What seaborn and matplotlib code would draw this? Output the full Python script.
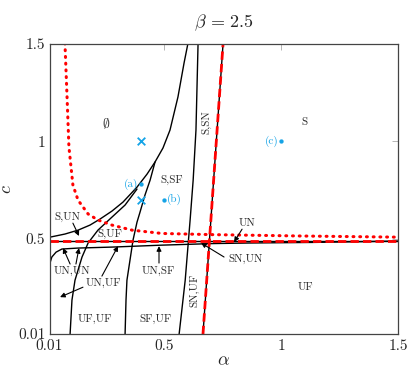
import numpy as np
import pandas as pd
import matplotlib
matplotlib.use("Agg")
import matplotlib.pyplot as plt
import seaborn as sns

# curves of the bifurcation diagram (alpha, c)
a_sun = [0.012, 0.076, 0.132, 0.183, 0.226, 0.277, 0.324, 0.384, 0.427, 0.461,
         0.495, 0.525, 0.559, 0.585, 0.602]
c_sun = [0.508, 0.524, 0.544, 0.570, 0.601, 0.642, 0.688, 0.765, 0.832, 0.894,
         0.966, 1.058, 1.228, 1.402, 1.505]

a_ufl = [0.098, 0.106, 0.119, 0.149, 0.175, 0.217, 0.277, 0.333, 0.384]
c_ufl = [0.010, 0.185, 0.287, 0.406, 0.478, 0.544, 0.611, 0.673, 0.755]

a_sfl = [0.333, 0.337, 0.341, 0.354, 0.367, 0.384, 0.397, 0.418, 0.440, 0.461]
c_sfl = [0.010, 0.185, 0.287, 0.390, 0.493, 0.585, 0.637, 0.724, 0.801, 0.894]

a_snl = [0.564, 0.590, 0.611, 0.624, 0.636, 0.645]
c_snl = [0.010, 0.287, 0.596, 0.801, 1.058, 1.505]

a_vert = [0.666, 0.752]
c_vert = [0.010, 1.505]

a_unsf = [0.012, 0.020, 0.038, 0.063, 0.132, 0.277, 0.491, 0.705, 0.867, 1.137, 1.500]
c_unsf = [0.375, 0.406, 0.431, 0.447, 0.452, 0.457, 0.467, 0.475, 0.478, 0.481, 0.488]

a_horiz = [0.01, 1.5]
c_horiz = [0.49, 0.49]

a_dot = [0.076, 0.085, 0.093, 0.110, 0.132, 0.175, 0.217, 0.277, 0.363, 0.491, 0.705, 1.081, 1.500]
c_dot = [1.505, 1.228, 0.971, 0.776, 0.698, 0.627, 0.596, 0.570, 0.544, 0.527, 0.521, 0.514, 0.508]

# sample parameters
pt_names = ["(a)", "(b)", "(c)"]
pt_alpha = [0.4, 0.5, 1.0]
pt_c = [0.78, 0.70, 1.0]
cross_alpha = [0.4, 0.4]
cross_c = [1.0, 0.70]

# region labels
reg_text = ["S,SF", "S", "S,UN", "S,UF", "UN,UN", "UN,UF", "UN,SF",
            "UF,UF", "SF,UF", "SN,UN", "UN", "UF"]
reg_alpha = [0.534, 1.098, 0.085, 0.269, 0.106, 0.239, 0.474,
             0.205, 0.461, 0.846, 0.855, 1.102]
reg_c = [0.801, 1.099, 0.611, 0.526, 0.334, 0.272, 0.334,
         0.087, 0.087, 0.395, 0.580, 0.251]
rot_text = ["S,SN", "SN,UF"]
rot_alpha = [0.679, 0.628]
rot_c = [1.099, 0.236]
empty_alpha, empty_c = 0.252, 1.094

# arrows: (from alpha, from c, to alpha, to c)
arr_from_a = [0.110, 0.098, 0.123, 0.234, 0.153, 0.478, 0.756, 0.833]
arr_from_c = [0.580, 0.370, 0.370, 0.308, 0.251, 0.375, 0.406, 0.549]
arr_to_a = [0.136, 0.068, 0.136, 0.303, 0.055, 0.478, 0.658, 0.799]
arr_to_c = [0.514, 0.452, 0.452, 0.462, 0.200, 0.462, 0.478, 0.483]

xticks = [0.01, 0.5, 1, 1.5]
xtick_labels = ["0.01", "0.5", "1", "1.5"]
yticks = [0.01, 0.5, 1, 1.5]
ytick_labels = ["0.01", "0.5", "1", "1.5"]

sns.set_theme(style="white")
plt.rcParams["font.family"] = ["cmr10", "DejaVu Serif"]
plt.rcParams["mathtext.fontset"] = "cm"
plt.rcParams["axes.formatter.use_mathtext"] = True

fig = plt.figure(figsize=(4.16, 3.70), dpi=100)
ax = fig.add_axes([0.119, 0.097, 0.838, 0.784])

blue = "#14a3e6"

def curve(a, c, **kw):
    df = pd.DataFrame({"alpha": a, "c": c})
    sns.lineplot(data=df, x="alpha", y="c", sort=False, estimator=None, ax=ax, **kw)

for a, c in [(a_sun, c_sun), (a_ufl, c_ufl), (a_sfl, c_sfl), (a_snl, c_snl),
             (a_vert, c_vert), (a_unsf, c_unsf), (a_horiz, c_horiz)]:
    curve(a, c, color="black", linewidth=1.0)

curve(a_vert, c_vert, color="red", linewidth=2.0, linestyle=(0, (3, 1.5)))
curve(a_horiz, c_horiz, color="red", linewidth=2.0, linestyle=(0, (3, 1.5)))
curve(a_dot, c_dot, color="red", linewidth=2.2, linestyle=(0, (0.3, 1.9)),
      dash_capstyle="round")

sns.scatterplot(x=pt_alpha, y=pt_c, color=blue, s=8, edgecolor=blue, ax=ax, zorder=5)
sns.scatterplot(x=cross_alpha, y=cross_c, color=blue, marker="x", s=30,
                linewidth=1.3, ax=ax, zorder=5)
ax.text(pt_alpha[0] - 0.012, pt_c[0], pt_names[0], color=blue, fontsize=8,
        ha="right", va="center")
ax.text(pt_alpha[1] + 0.012, pt_c[1], pt_names[1], color=blue, fontsize=8,
        ha="left", va="center")
ax.text(pt_alpha[2] - 0.012, pt_c[2], pt_names[2], color=blue, fontsize=8,
        ha="right", va="center")

for t, a, c in zip(reg_text, reg_alpha, reg_c):
    ax.text(a, c, t, fontsize=8, ha="center", va="center")
for t, a, c in zip(rot_text, rot_alpha, rot_c):
    ax.text(a, c, t, fontsize=8, ha="center", va="center", rotation=90)
ax.text(empty_alpha, empty_c, "$\\emptyset$", fontsize=10, ha="center", va="center")

for fa, fc, ta, tc in zip(arr_from_a, arr_from_c, arr_to_a, arr_to_c):
    ax.annotate("", xy=(ta, tc), xytext=(fa, fc),
                arrowprops=dict(arrowstyle="-|>", color="black", lw=0.8,
                                mutation_scale=7, shrinkA=0, shrinkB=0))

ax.set_xlim(0.01, 1.5)
ax.set_ylim(0.01, 1.5)
ax.set_xticks(xticks)
ax.set_xticklabels(xtick_labels)
ax.set_yticks(yticks)
ax.set_yticklabels(ytick_labels)
ax.tick_params(direction="in", length=4, width=0.6, color="#aaaaaa",
               top=True, right=True, labelsize=11, pad=3)
ax.tick_params(axis="x", pad=4)
for s in ax.spines.values():
    s.set_color("#444444")
    s.set_linewidth(0.9)
ax.set_xlabel("$\\alpha$", fontsize=13, labelpad=0)
ax.set_ylabel("$c$", fontsize=13)
ax.yaxis.set_label_coords(-0.102, 0.5)
ax.set_title("$\\beta\\,=\\,2.5$", fontsize=13, pad=12)

fig.savefig("out.png", dpi=100)
